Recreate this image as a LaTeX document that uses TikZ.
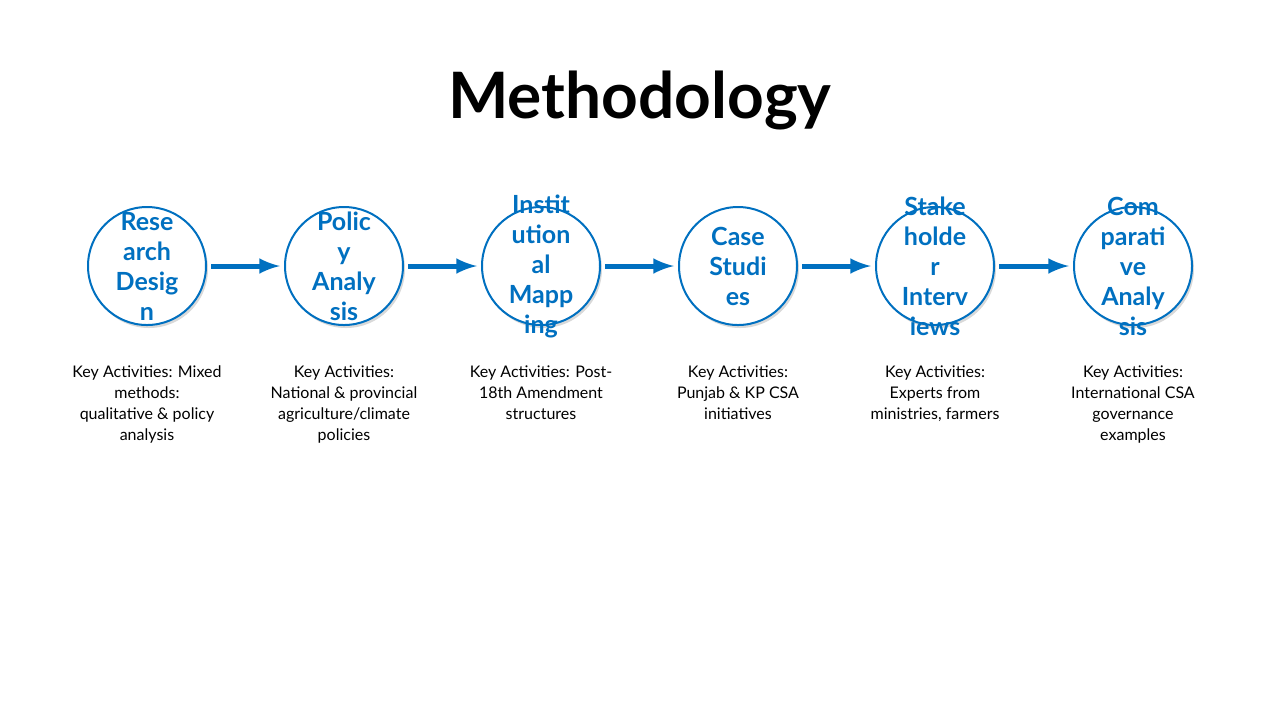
\documentclass[tikz,border=0pt]{standalone}
\usepackage{fontspec}
\setmainfont{Lato}
\usetikzlibrary{shadows}
\definecolor{stepblue}{HTML}{0070C0}

\begin{document}
\begin{tikzpicture}[x=0.5pt, y=-0.5pt,
                        phase/.style = {circle, draw = stepblue, line width = 1pt, fill = white,
                                       minimum size = 59pt, inner sep = 0pt,
                                       drop shadow = {shadow xshift = 1pt, shadow yshift = -1.5pt, opacity = 0.3}},
                        tag/.style = {text = stepblue, align = center, inner sep = 0pt,
                                      font = \fontsize{12.5}{15}\selectfont\bfseries},
                        note/.style = {align = center, anchor = north, font = \fontsize{8}{10.5}\selectfont},
                        link/.style = {draw = stepblue, line width = 2.5pt, -latex, shorten <= 2pt, shorten >= 2pt}]
      \useasboundingbox (0, 0) rectangle (1280, 720);
      \node (title) at (640, 100) {\fontsize{32}{36}\selectfont\bfseries Methodology};

      \node [phase] (s1) at (147, 266) {};
      \node [phase] (s2) at (344, 266) {};
      \node [phase] (s3) at (541, 266) {};
      \node [phase] (s4) at (738, 266) {};
      \node [phase] (s5) at (935, 266) {};
      \node [phase] (s6) at (1133, 266) {};

      \node [tag] (t1) at (s1) {Rese\\arch\\Desig\\n};
      \node [tag] (t2) at (s2) {Polic\\y\\Analy\\sis};
      \node [tag] (t3) at (s3) {Instit\\ution\\al\\Mapp\\ing};
      \node [tag] (t4) at (s4) {Case\\Studi\\es};
      \node [tag] (t5) at (s5) {Stake\\holde\\r\\Interv\\iews};
      \node [tag] (t6) at (s6) {Com\\parati\\ve\\Analy\\sis};

      \draw [link] (s1) -- (s2);
      \draw [link] (s2) -- (s3);
      \draw [link] (s3) -- (s4);
      \draw [link] (s4) -- (s5);
      \draw [link] (s5) -- (s6);

      \node [note] (n1) at (147, 359) {Key Activities: Mixed\\methods:\\qualitative \& policy\\analysis};
      \node [note] (n2) at (344, 359) {Key Activities:\\National \& provincial\\agriculture/climate\\policies};
      \node [note] (n3) at (541, 359) {Key Activities: Post-\\18th Amendment\\structures};
      \node [note] (n4) at (738, 359) {Key Activities:\\Punjab \& KP CSA\\initiatives};
      \node [note] (n5) at (935, 359) {Key Activities:\\Experts from\\ministries, farmers};
      \node [note] (n6) at (1133, 359) {Key Activities:\\International CSA\\governance\\examples};
\end{tikzpicture}
\end{document}
